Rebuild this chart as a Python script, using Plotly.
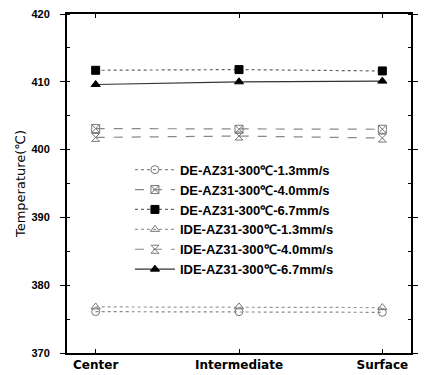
import plotly.graph_objects as go

categories = ["Center", "Intermediate", "Surface"]
series_names = [
    "DE-AZ31-300℃-1.3mm/s",
    "DE-AZ31-300℃-4.0mm/s",
    "DE-AZ31-300℃-6.7mm/s",
    "IDE-AZ31-300℃-1.3mm/s",
    "IDE-AZ31-300℃-4.0mm/s",
    "IDE-AZ31-300℃-6.7mm/s",
]
de_13 = [376.1, 376.1, 376.0]
de_40 = [403.1, 403.0, 403.0]
de_67 = [411.7, 411.8, 411.6]
ide_13 = [376.8, 376.8, 376.7]
ide_40 = [401.8, 402.0, 401.7]
ide_67 = [409.6, 410.0, 410.1]
y_ticks = [370, 380, 390, 400, 410, 420]

values = [de_13, de_40, de_67, ide_13, ide_40, ide_67]
symbols = ["circle-open", "square-x-open", "square", "triangle-up-open", "hourglass-open", "triangle-up"]
dashes = ["dot", "dash", "dot", "dot", "dash", "solid"]
colors = ["#888", "#888", "#666", "#999", "#888", "#333"]

fig = go.Figure()
for name, vals, sym, dash, col in zip(series_names, values, symbols, dashes, colors):
    filled = sym in ("square", "triangle-up")
    fig.add_trace(go.Scatter(
        x=[0, 1, 2], y=vals, name=name, mode="lines+markers",
        line=dict(color=col, width=1.2, dash=dash),
        marker=dict(symbol=sym, size=8, color="black" if filled else "#777",
                    line=dict(color="black" if filled else "#666", width=1)),
    ))

font_main = "Liberation Sans, Arial, sans-serif"
font_wide = "DejaVu Sans, sans-serif"
fig.update_layout(
    width=424, height=375,
    margin=dict(l=67, r=13, t=14, b=22),
    paper_bgcolor="white", plot_bgcolor="white",
    font=dict(family=font_main, color="black"),
    showlegend=True,
    legend=dict(x=0.183, y=0.585, xanchor="left", yanchor="top",
                bgcolor="rgba(0,0,0,0)", font=dict(size=13, family=font_main, weight="bold"),
                itemwidth=40, tracegroupgap=0),
    xaxis=dict(
        range=[-0.2, 2.2], tickmode="array", tickvals=[0, 1, 2], ticktext=categories,
        ticks="inside", ticklen=4, tickcolor="black", showline=True, linecolor="black", linewidth=2,
        mirror="allticks", showgrid=False, zeroline=False, automargin=False,
        tickfont=dict(size=12, family=font_wide, weight="bold"),
    ),
    yaxis=dict(
        range=[370, 420], tickmode="array", tickvals=y_ticks, automargin=False,
        ticks="outside", ticklen=5, tickcolor="black", showline=True, linecolor="black", linewidth=2,
        mirror="allticks", showgrid=False, zeroline=False,
        tickfont=dict(size=11, weight="bold"), ticklabelstandoff=8,
        minor=dict(dtick=5, ticks="inside", ticklen=3, tickcolor="black"),
        title=dict(text="Temperature(℃)", font=dict(size=13, family=font_wide), standoff=3),
    ),
)
fig.write_html("out.html", config={"displayModeBar": False},
               post_script="document.body.style.margin='0';")
